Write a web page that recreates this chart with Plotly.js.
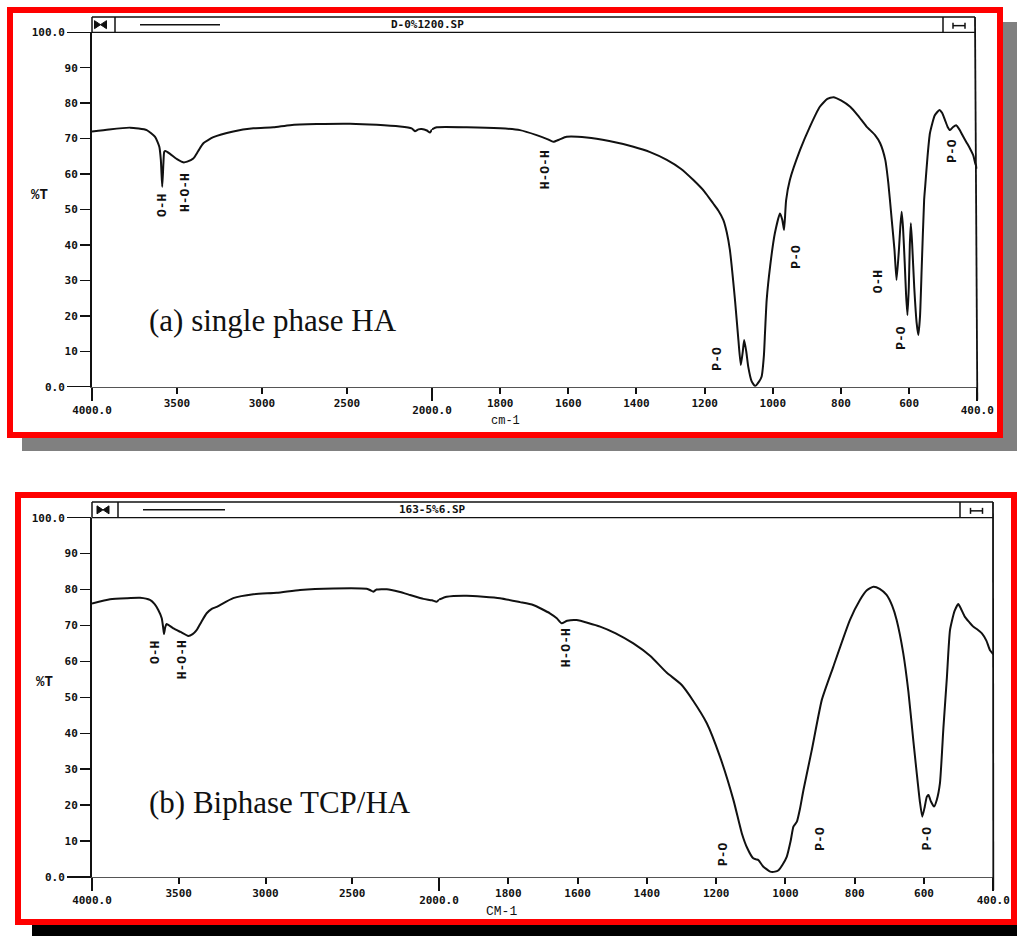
<!DOCTYPE html>
<html><head><meta charset="utf-8">
<script src="https://cdn.plot.ly/plotly-3.0.1.min.js"></script>
<style>html,body{margin:0;padding:0;background:#fff;}#chart{width:1017px;height:936px;}</style>
</head><body><div id="chart"></div>
<script>
// ---------------- data ----------------
const wnA = [4000,3900,3776,3678,3629,3604,3595,3587,3580,3575,3568,3541,3500,3463,3440,3404,3375,3345,3286,3169,
  3051,2933,2835,2678,2482,2325,2188,2120,2100,2080,2061,2030,2012,2000,1986,1898,1800,1742,1693,1660,
  1644,1625,1605,1546,1480,1409,1360,1311,1270,1233,1200,1175,1160,1145,1135,1126,1111,1101,1094,1088,1084,1078,
  1072,1062,1052,1040,1033,1026,1023,1018,1008,994,979,972,967,961,950,920,891,862,840,822,
  800,773,750,725,700,685,670,661,651,643,637,630,626,622,618,613,609,605,601,598,
  595,591,585,578,573,568,563,556,553,546,539,525,511,503,495,487,480,471,462,452,
  441,432,422,412,406,400];
const tA  = [72.0,72.6,73.1,72.4,70.5,67.7,64.0,56.4,63.0,66.3,66.5,65.7,64.2,63.3,63.5,64.4,66.5,68.7,70.4,72.0,
  72.9,73.2,73.8,74.1,74.2,73.9,73.4,72.9,72.1,72.6,72.7,72.3,71.7,72.6,73.2,73.2,72.9,72.4,71.0,69.8,
  69.1,69.8,70.5,70.3,69.3,67.7,66.2,64.0,61.5,58.3,55.0,51.7,49.7,47.0,43.5,38.6,24.5,13.2,6.1,10.0,13.2,10.0,
  5.6,1.5,0.2,1.5,2.8,9.0,15.0,24.5,33.9,43.3,48.9,47.0,44.2,52.6,58.3,66.8,73.4,79.0,81.2,81.7,
  80.8,79.0,76.5,73.4,71.0,68.7,64.0,57.4,47.0,38.6,30.1,38.6,45.0,49.4,45.0,35.0,26.0,20.2,28.0,40.0,
  46.1,40.0,28.0,18.0,14.6,20.0,33.9,52.7,56.4,65.0,71.5,76.5,78.1,77.2,75.3,73.3,72.4,73.3,73.8,72.5,
  70.5,69.0,67.3,65.3,63.0,61.5];

const wnB = [4000,3896,3800,3723,3666,3640,3618,3598,3590,3585,3578,3570,3531,3490,3445,3420,3397,3370,3339,3310,
  3281,3186,3070,2935,2801,2609,2417,2395,2379,2360,2301,2230,2167,2090,2040,2014,2000,1978,1920,1824,
  1766,1728,1680,1660,1646,1630,1603,1535,1490,1439,1390,1343,1300,1266,1227,1189,1150,1126,1110,1093,
  1085,1078,1065,1044,1030,1020,1008,996,985,977,967,958,948,924,895,862,814,785,765,746,
  728,708,692,679,660,645,631,621,612,605,598,592,587,580,571,563,554,544,534,
  525,512,501,494,482,470,458,445,433,420,410,400];
const tB  = [76.1,77.3,77.6,77.7,77.1,76.0,74.3,72.0,69.5,67.6,69.5,70.4,69.2,68.2,67.1,67.6,68.7,71.0,73.4,74.6,
  75.2,77.6,78.7,79.1,79.9,80.3,80.2,79.8,79.4,80.0,80.1,79.4,78.5,77.4,77.0,76.6,77.2,78.0,78.3,77.6,
  76.5,75.7,73.4,72.0,70.6,71.3,71.5,69.7,67.8,65.0,61.5,56.9,53.5,49.0,42.8,33.5,21.4,12.2,8.0,5.2,
  4.9,4.7,3.0,1.5,1.5,1.9,3.5,5.7,10.0,14.0,15.4,19.0,24.2,35.3,49.3,58.5,71.5,77.1,79.8,80.8,
  80.2,78.5,75.5,71.5,62.3,51.5,38.1,28.9,21.0,16.8,19.5,22.3,22.8,21.0,19.6,21.5,26.1,41.5,55.5,
  68.7,74.0,76.0,74.8,72.4,71.0,69.7,68.8,67.8,65.8,63.2,62.0];

const peakTextA = ['O-H','H-O-H','H-O-H','P-O','P-O','O-H','P-O','P-O'];
const peakWnA   = [3582,3453,1668,1165,930,691,622,475];
const peakTA    = [51.0,54.9,61.1,7.8,36.6,29.5,13.7,66.5];
const peakTextB = ['O-H','H-O-H','H-O-H','P-O','P-O','P-O'];
const peakWnB   = [3637,3474,1633,1180,898,590];
const peakTB    = [62.6,60.4,63.7,6.4,10.6,10.9];

const yTickVals = [10,20,30,40,50,60,70,80,90];
const yTickText = ['10','20','30','40','50','60','70','80','90'];
const yEndVals  = [0,100];
const yEndText  = ['0.0','100.0'];
const xHiVals   = [3500,3000,2500];
const xHiText   = ['3500','3000','2500'];
const xHiEnds   = [4000,2000];
const xHiEndText= ['4000.0','2000.0'];
const xLoVals   = [1800,1600,1400,1200,1000,800,600];
const xLoText   = ['1800','1600','1400','1200','1000','800','600'];
const xLoEnds   = [400];
const xLoEndText= ['400.0'];

const fileNames = ['D-0%1200.SP','163-5%6.SP'];
const captions  = ['(a) single phase HA','(b) Biphase TCP/HA'];
const unitText  = ['cm-1','CM-1'];

// ---------------- layout helpers ----------------
const W = 1017, H = 936;
const PX = x => x / W, PY = y => 1 - y / H;
const INK = '#111';
const tickFont = {family:'DejaVu Sans Mono', size:11, color:INK, weight:'bold'};
const sfx = n => n === 1 ? '' : String(n);

const layout = {
  width:W, height:H, margin:{l:0,r:0,t:0,b:0},
  paper_bgcolor:'#fff', plot_bgcolor:'rgba(0,0,0,0)',
  showlegend:false, shapes:[], annotations:[]
};
const data = [];

const panels = [
  {x0:92, xm:432, x1:977.3, yTop:32.3, yBot:386.7, hTop:17, bowX:[86,115], segX:[140,220], iconX:[943,975], titleX:427,
   frame:[10,10,1000,435], shadow:[22,22,1017,451], shadowColor:'#808080', pctY:195, pctX:39, unit:[505,421], cap:[147,320],
   wn:wnA, t:tA, pk:[peakTextA,peakWnA,peakTA]},
  {x0:92, xm:439, x1:993.3, yTop:517.7, yBot:877, hTop:502, bowX:[88,118], segX:[143,225], iconX:[960,993], titleX:432,
   frame:[18,495,1014,922], shadow:[32,505,1017,936], shadowColor:'#000', pctY:682, pctX:44, unit:[501,911], cap:[147,802],
   wn:wnB, t:tB, pk:[peakTextB,peakWnB,peakTB]}
];

panels.forEach((p, i) => {
  const xa = 1 + i*4, xaL = xa+1, xb = xa+2, xbL = xa+3;
  const ya = 1 + i*2, yaL = ya+1;
  const common = {showgrid:false, zeroline:false, fixedrange:true, tickfont:tickFont, tickmode:'array',
                  ticks:'outside', tickcolor:INK};
  layout['xaxis'+sfx(xa)] = Object.assign({}, common, {domain:[PX(p.x0),PX(p.xm)], range:[4000,2000], anchor:'y'+sfx(ya),
     tickvals:xHiVals, ticktext:xHiText, ticklen:6, tickwidth:2, showline:true, linecolor:'#555', linewidth:1});
  layout['xaxis'+sfx(xaL)] = Object.assign({}, common, {overlaying:'x'+sfx(xa), range:[4000,2000], anchor:'y'+sfx(ya),
     tickvals:xHiEnds, ticktext:xHiEndText, ticklen:13, tickwidth:2, showline:false});
  layout['xaxis'+sfx(xb)] = Object.assign({}, common, {domain:[PX(p.xm),PX(p.x1)], range:[2000,400], anchor:'y'+sfx(ya),
     tickvals:xLoVals, ticktext:xLoText, ticklen:6, tickwidth:2, showline:true, linecolor:'#555', linewidth:1});
  layout['xaxis'+sfx(xbL)] = Object.assign({}, common, {overlaying:'x'+sfx(xb), range:[2000,400], anchor:'y'+sfx(ya),
     tickvals:xLoEnds, ticktext:xLoEndText, ticklen:13, tickwidth:2, showline:false});
  layout['yaxis'+sfx(ya)] = Object.assign({}, common, {domain:[PY(p.yBot),PY(p.yTop)], range:[0,100], anchor:'x'+sfx(xa),
     tickvals:yTickVals, ticktext:yTickText, ticklen:10, tickwidth:1.5, showline:true, linecolor:INK, linewidth:2});
  layout['yaxis'+sfx(yaL)] = Object.assign({}, common, {overlaying:'y'+sfx(ya), side:'left', range:[0,100], anchor:'x'+sfx(xa),
     tickvals:yEndVals, ticktext:yEndText, ticklen:24, tickwidth:1.5, showline:false});

  // spectrum, split at 2000 cm-1 where the scale changes
  const hiX=[],hiY=[],loX=[],loY=[];
  p.wn.forEach((w,k)=>{ if(w>=2000){hiX.push(w);hiY.push(p.t[k]);} if(w<=2000){loX.push(w);loY.push(p.t[k]);} });
  const ln = {color:INK, width:2, shape:'spline', smoothing:0.5};
  data.push({x:hiX, y:hiY, xaxis:'x'+sfx(xa), yaxis:'y'+sfx(ya), mode:'lines', line:ln, hoverinfo:'skip'});
  data.push({x:loX, y:loY, xaxis:'x'+sfx(xb), yaxis:'y'+sfx(ya), mode:'lines', line:ln, hoverinfo:'skip'});
  // empty traces so the overlay axes (long end ticks) are drawn
  [['x'+sfx(xaL),'y'+sfx(ya)],['x'+sfx(xbL),'y'+sfx(ya)],['x'+sfx(xa),'y'+sfx(yaL)]].forEach(([xr,yr])=>{
    data.push({x:[null], y:[null], xaxis:xr, yaxis:yr, mode:'lines', hoverinfo:'skip'});
  });

  // peak assignments
  p.pk[0].forEach((txt,k)=>{
    const w = p.pk[1][k];
    layout.annotations.push({text:txt, x:w, y:p.pk[2][k], xref:'x'+sfx(w>=2000?xa:xb), yref:'y'+sfx(ya),
      xanchor:'center', yanchor:'middle', showarrow:false, textangle:-90,
      font:{family:'Liberation Mono', size:13, color:INK, weight:'bold'}});
  });

  // decoration: shadow + red frame
  const S = layout.shapes;
  S.push({type:'rect', xref:'paper', yref:'paper', x0:PX(p.shadow[0]), x1:PX(p.shadow[2]), y0:PY(p.shadow[1]), y1:PY(p.shadow[3]),
    fillcolor:p.shadowColor, line:{width:0}, layer:'below'});
  S.push({type:'rect', xref:'paper', yref:'paper', x0:PX(p.frame[0]), x1:PX(p.frame[2]), y0:PY(p.frame[1]), y1:PY(p.frame[3]),
    fillcolor:'#fff', line:{color:'#ff0000', width:6}, layer:'below'});
  // header bar
  const hb = p.yTop, ht = p.hTop, hm = (hb+ht)/2;
  const L = (x0,y0,x1,y1,w) => S.push({type:'line', xref:'paper', yref:'paper', x0:PX(x0), y0:PY(y0), x1:PX(x1), y1:PY(y1), line:{color:INK, width:w||1.5}});
  L(p.x0, ht, p.iconX[1], ht);                 // header top
  L(p.x0, ht, p.x0, hb);                       // header left
  L(p.bowX[1], ht, p.bowX[1], hb);             // bowtie box divider
  L(p.iconX[0], ht, p.iconX[0], hb);           // right box divider
  L(p.x0, hb, p.iconX[1], hb, 1.2);            // header bottom (100 % line)
  L(p.iconX[1], ht, p.x1, p.yBot+13, 1.8);     // right frame
  L(p.segX[0], hm, p.segX[1], hm, 1.5);        // segment in header
  // bowtie
  const bc = (p.bowX[0]+p.bowX[1])/2;
  S.push({type:'path', xref:'paper', yref:'paper', fillcolor:INK, line:{color:INK, width:1},
    path:`M ${PX(bc-6)} ${PY(hm-4)} L ${PX(bc)} ${PY(hm)} L ${PX(bc-6)} ${PY(hm+4)} Z M ${PX(bc+6)} ${PY(hm-4)} L ${PX(bc)} ${PY(hm)} L ${PX(bc+6)} ${PY(hm+4)} Z`});
  // H-bar icon
  const ic = (p.iconX[0]+p.iconX[1])/2;
  L(ic-6, hm+1, ic+6, hm+1, 1.5);
  L(ic-6, hm-2, ic-6, hm+4, 1.5);
  L(ic+6, hm-2, ic+6, hm+4, 1.5);

  // texts
  const A = layout.annotations;
  const txt = (text, x, y, font, xanchor) => A.push({text, x:PX(x), y:PY(y), xref:'paper', yref:'paper',
    xanchor:xanchor||'center', yanchor:'middle', showarrow:false, font});
  txt(fileNames[i], p.titleX, hm, {family:'DejaVu Sans Mono', size:11, color:INK, weight:'bold'});
  txt('%T', p.pctX, p.pctY, {family:'Liberation Mono', size:14, color:INK, weight:'bold'});
  txt(unitText[i], p.unit[0], p.unit[1], {family:'Liberation Mono', size:i===0?12:13, color:INK});
  txt(captions[i], p.cap[0], p.cap[1], {family:'Liberation Serif', size:31, color:INK}, 'left');
});

Plotly.newPlot('chart', data, layout, {staticPlot:true, displayModeBar:false});
</script></body></html>
